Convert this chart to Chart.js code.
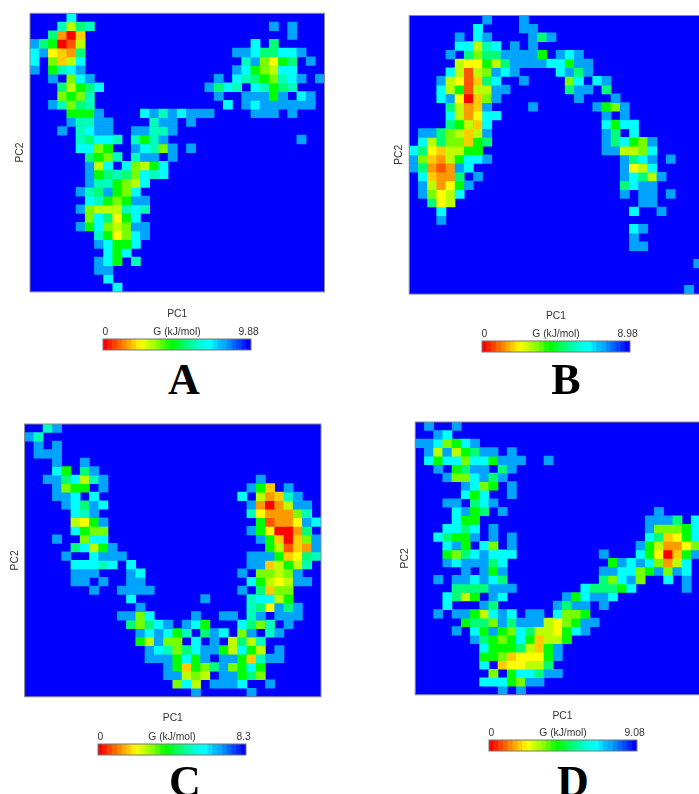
<!DOCTYPE html>
<html>
<head>
<meta charset="utf-8">
<title>PC1 / PC2 free energy maps</title>
<script src="https://cdn.jsdelivr.net/npm/chart.js@4"></script>
<style>
  html, body { margin: 0; padding: 0; background: #fff; }
  #page { position: relative; width: 699px; height: 794px; overflow: hidden; }
  #page canvas { position: absolute; filter: blur(0.5px); }
  .letter { position: absolute; transform: translateX(-50%); font: bold 44px "Liberation Serif", serif; color: #000; line-height: 44px; }
</style>
</head>
<body>
<div id="page"></div>
<script>
// each character is one cell: 0 = lowest G (red) ... b = azure, "." = background blue
const panelA = [
  "....a",
  "...9589...................b.b",
  "..8203......................b",
  "b87015..................a.8",
  "ab4328................bba88aab",
  "a.635a.................9b6478.b",
  "b.79ab................ba765aa",
  "..b.6ab.............b.a98769ab.b",
  "...8578a...........b8a9.a9789",
  "...6769.............b..bbb7b.ab",
  "..b9689..............a.babbbbbb",
  "....777b....ab9babbb....bbb.b",
  "....b99bb....9bb.b",
  "...b.9abb..bb99b",
  ".....98aa9.979b..............b",
  ".....aa67..ba96b.b",
  "......8769.9bb.b",
  "......b5a.a657a",
  "......b78986a9a",
  "......b99765a",
  ".....b98b76a",
  "......a9767bb",
  ".....b65559a9",
  "......6a847a",
  ".....b7a656bb",
  ".......9746ab",
  ".......ba77a",
  "........a7a",
  ".......ba7.9",
  ".......bb",
  "........a",
  ".........a"
];
const panelB = [
  "........b...b",
  ".......a....bb",
  ".....b.ab....b8b",
  ".....aa59a.b.b",
  "....b.8688bbbb7.bab",
  ".....544758bbbbaa7bb",
  "....a5156bab....ab8b",
  "...b54138a..b....6a.ab",
  "...a57155bb......8bb.8",
  "...ab4036b........b...b",
  "....8523b....b......b76b",
  "....a524aa...........b.b",
  "....8753a............a7aa",
  ".bb86535b............b8.a",
  ".a5866378............b8a76b",
  "a8435577.............bb556a",
  "b63257aab..............b8ab.b",
  "b8212ba................b45a",
  ".a3228.b...............ba85b",
  ".b5247b................8abb",
  ".b645a.................b.bb.b",
  "..845....................bb",
  "...a....................a..b",
  "...b",
  "........................ab",
  "........................b",
  "........................bb",
  "",
  "...............................b",
  "",
  "",
  "..............................b"
];
const panelC = [
  "..9b",
  "b9",
  ".b.b",
  ".bbb",
  "...b..b",
  "...a7.8b",
  "..bb8a59b................b",
  "...b677.b...............b73.b",
  "...bba.a...............a.5239b",
  "....ba8ba...............b2025bb",
  ".....a9b................9422269",
  ".....547b................71224ba",
  ".....a766...............b740028",
  "...b..6aa................b73036b",
  ".....8a57b................75132b",
  "....b..abbb.............bbb73489",
  ".....aaa9a.a............bb35759",
  ".....bbb...ba..........b.6656b",
  ".....bb.b..bb...........a7545bb",
  ".......b..bbbb.........b.8366",
  "...........a.......b....9aa57",
  "............b...........984b8b",
  "..........bb6a....b..bb.9b.bbb",
  "...........868ab.ba7...a869.b",
  "............baba79.8ba.6b.9b",
  "............75b66.a.b.5859",
  ".............ba968abb75a75.b",
  ".............bbb7a7b.bb739bb",
  "...............b73768b67a7",
  "...............bb565.bb786",
  "................6a5.bbba..b",
  "..................b.....b"
];
const panelD = [
  ".b..b",
  "..ba",
  "bba67ab",
  ".b5b578bb.b",
  ".a7aa6aa7bbb..b",
  "..b.78bb.8b",
  "...b66ab8b",
  ".....ba67.b",
  ".....a7a..b",
  "...bb.8ab",
  "....ab78.b................b",
  "....a77..................bbb8.a",
  "...aa8a.b................b6667a",
  "..a877b.b.b..............a8347a",
  "...ab7.a6.b.............b752246",
  "...768abaaa.........b...a74037b",
  "...babbb8a...........7baba625a",
  ".....b.b7b..........bbaa67b6ba",
  "..b.bbaba8..........86ab6..a.b",
  "....8888bbb.......a8887a.....b",
  "...a857.ba......b7abba",
  "...a...b8......b8bb.b",
  "..b.bb75aba.bb.a667",
  ".....7886b8bbb5467bb",
  "....b.a7b76a85547ab",
  "......b8767a73557",
  ".......a7778537b",
  ".......77634447b",
  ".......a.344558",
  "........6.7aa8bb",
  ".......aaa76bb",
  ".........b.b"
];
const maxG = ["9.88", "8.98", "8.3", "9.08"];
const panelNames = ["A", "B", "C", "D"];
const levelColors = ["#ff0000", "#ff5500", "#ff9900", "#ffcc00", "#ffff00", "#bbff00", "#77ff00", "#00ff00", "#00ff77", "#00ffbb", "#00ffff", "#00a4ff"];
const barColors = ["#ff0000", "#ff2200", "#ff4400", "#ff6600", "#ff8800", "#ffaa00", "#ffcc00", "#ffee00", "#eeff00", "#ccff00", "#aaff00", "#88ff00", "#55ff00", "#22ff00", "#00ff00", "#00ff22", "#00ff55", "#00ff77", "#00ff99", "#00ffbb", "#00ffdd", "#00ffee", "#00ffff", "#00ddff", "#00bbff", "#00aaff", "#0088ff", "#0066ff", "#0044ff", "#0022ff", "#0000ff"];

// where things sit on the page
const layouts = [
  { rows: panelA, x: 30, y: 13.3, w: 294.5, h: 278.6, barX: 103, barY: 339, letterX: 184, letterY: 358 },
  { rows: panelB, x: 409.2, y: 15.5, w: 293.6, h: 278.6, barX: 482, barY: 341, letterX: 566, letterY: 358 },
  { rows: panelC, x: 24.6, y: 424, w: 296.4, h: 272.8, barX: 98, barY: 744, letterX: 185, letterY: 760 },
  { rows: panelD, x: 415.2, y: 422, w: 294.4, h: 272.8, barX: 489, barY: 740.5, letterX: 573, letterY: 760 }
];

const page = document.getElementById("page");
const font = { family: "'Liberation Sans', Arial, sans-serif", size: 10.3 };
const ink = "#333";

const paintPlot = {
  id: "paintPlot",
  beforeDatasetsDraw(chart, args, opts) {
    if (!opts.fill) return;
    const a = chart.chartArea;
    chart.ctx.fillStyle = opts.fill;
    chart.ctx.fillRect(a.left, a.top, a.width, a.height);
  },
  afterDatasetsDraw(chart, args, opts) {
    const a = chart.chartArea;
    chart.ctx.strokeStyle = opts.frame;
    chart.ctx.lineWidth = 1;
    chart.ctx.strokeRect(a.left, a.top, a.width, a.height);
  }
};

function addCanvas(left, top, width, height) {
  const c = document.createElement("canvas");
  c.width = width;
  c.height = height;
  c.style.left = left + "px";
  c.style.top = top + "px";
  page.appendChild(c);
  return c;
}

function heatmap(p) {
  const gutterL = 16, gutterB = 28, pad = 2;
  const left = Math.floor(p.x) - gutterL, top = Math.floor(p.y) - pad;
  const padL = p.x - left - gutterL, padT = p.y - top;
  const width = Math.ceil(gutterL + padL + p.w + pad), height = Math.ceil(padT + p.h + gutterB);
  const columns = [...Array(32).keys()];
  const datasets = p.rows.map((row, r) => {
    const cells = columns.map(c => parseInt(row[c], 16));
    return {
      data: cells.map(v => isNaN(v) ? null : [r, r + 1]),
      backgroundColor: cells.map(v => isNaN(v) ? "transparent" : levelColors[v]),
      barPercentage: 1,
      categoryPercentage: 1,
      grouped: false
    };
  });
  new Chart(addCanvas(left, top, width, height), {
    type: "bar",
    data: { labels: columns, datasets },
    options: {
      responsive: false,
      animation: false,
      layout: { padding: { left: padL, top: padT, right: width - gutterL - padL - p.w, bottom: height - padT - p.h - gutterB } },
      plugins: { legend: { display: false }, tooltip: { enabled: false }, paintPlot: { fill: "#0000ff", frame: "#8a8a8a" } },
      scales: {
        x: {
          grid: { display: false }, border: { display: false }, ticks: { display: false },
          title: { display: true, text: "PC1", font, color: ink, padding: 0 },
          afterFit(s) { s.height = gutterB; }
        },
        y: {
          min: 0, max: 32, reverse: true,
          grid: { display: false }, border: { display: false }, ticks: { display: false },
          title: { display: true, text: "PC2", font, color: ink, padding: 0 },
          afterFit(s) { s.width = gutterL; }
        }
      }
    },
    plugins: [paintPlot]
  });
}

function colorbar(p, top) {
  const side = 24, tickH = 15, w = 148.5, h = 10.5;
  const names = barColors.map((c, i) => i === 0 ? "0" : i === 15 ? "G (kJ/mol)" : i === barColors.length - 1 ? top : "");
  new Chart(addCanvas(p.barX - side, Math.floor(p.barY) - tickH, w + 2 * side, tickH + h + 3), {
    type: "bar",
    data: {
      labels: names,
      datasets: [{ data: barColors.map(() => 1), backgroundColor: barColors, barPercentage: 1, categoryPercentage: 1 }]
    },
    options: {
      responsive: false,
      animation: false,
      layout: { padding: { left: side, right: side, bottom: 2 } },
      plugins: { legend: { display: false }, tooltip: { enabled: false }, paintPlot: { frame: "#777" } },
      scales: {
        x: {
          position: "top",
          grid: { display: false, drawTicks: false }, border: { display: false },
          ticks: { autoSkip: false, maxRotation: 0, padding: 1, font, color: ink },
          afterFit(s) { s.height = tickH; }
        },
        y: { display: false, min: 0, max: 1 }
      }
    },
    plugins: [paintPlot]
  });
}

layouts.forEach((p, i) => {
  heatmap(p);
  colorbar(p, maxG[i]);
  const d = document.createElement("div");
  d.className = "letter";
  d.textContent = panelNames[i];
  d.style.left = p.letterX + "px";
  d.style.top = p.letterY + "px";
  page.appendChild(d);
});
</script>
</body>
</html>
